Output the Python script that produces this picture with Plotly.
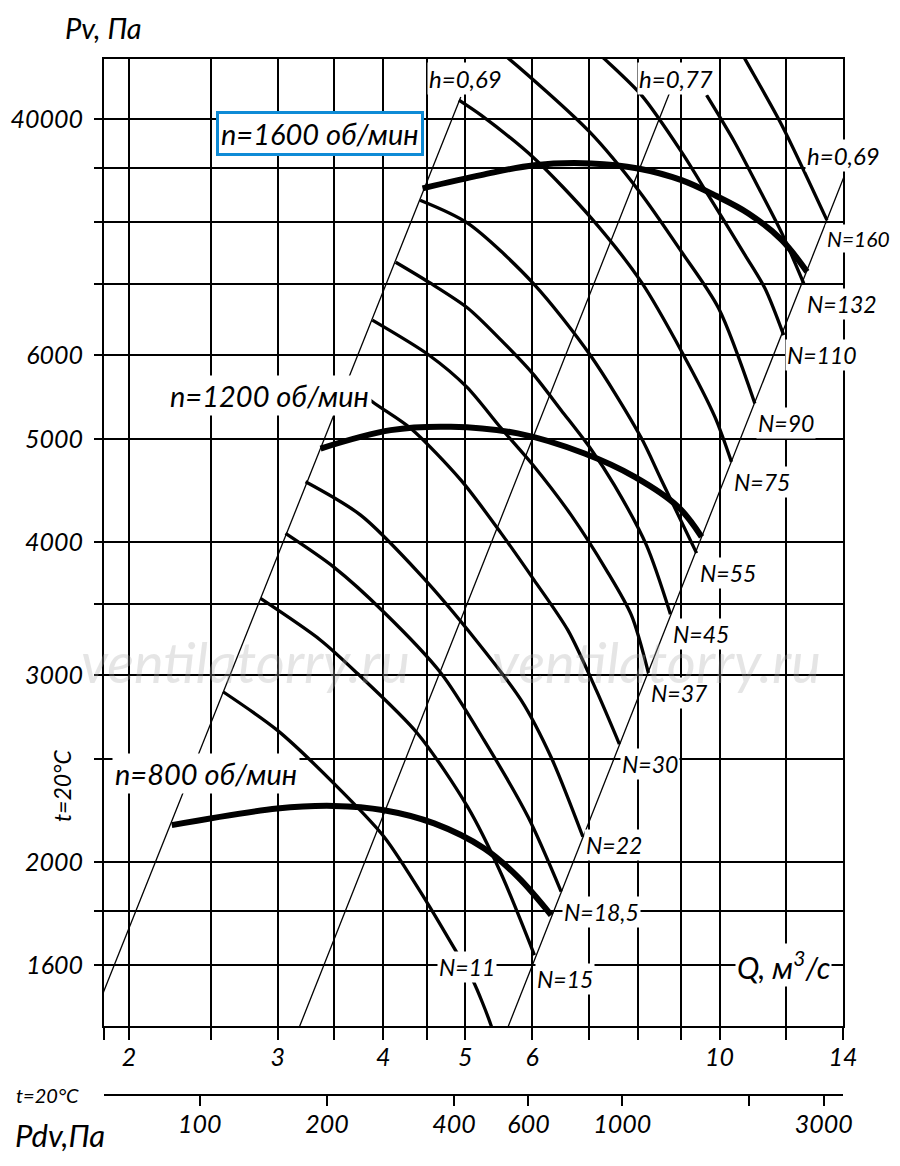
import numpy as np
import plotly.graph_objects as go

FONT = "Lato, 'Noto Sans', 'DejaVu Sans', sans-serif"

# ось Q, м3/с (логарифмическая)
q_grid = [1.868, 2, 2.5, 3, 3.5, 4, 4.5, 5, 6, 7, 8, 9, 10, 12, 14]
q_text = ["", "2", "", "3", "", "4", "", "5", "6", "", "", "", "10", "", "14"]

# ось Pv, Па (на исходнике у 10000 подписано "40000")
p_grid = [1600, 1800, 2000, 2500, 3000, 3500, 4000, 5000, 6000, 7000, 8000, 9000, 10000]
p_text = ["1600", "", "2000", "", "3000", "", "4000", "5000", "6000", "", "", "", "40000"]

# ось Pdv, Па
pdv_ticks = [100, 200, 400, 600, 1000, 2000, 3000]
pdv_text = ["100", "200", "400", "600", "1000", "", "3000"]
PDV_K = 17.0   # Pdv = k * Q^2

# характеристики давления
n800_q = [2.247, 2.995, 3.495, 4.007, 4.594, 5.267, 5.770, 6.319]
n800_p = [2167, 2246, 2259, 2238, 2175, 2060, 1937, 1783]
n1200_q = [3.371, 4.081, 4.809, 5.770, 6.921, 7.935, 8.934, 9.522]
n1200_p = [4901, 5100, 5137, 5064, 4848, 4609, 4319, 4047]
n1600_q = [4.451, 5.220, 6.033, 7.050, 8.009, 9.015, 9.866, 10.82, 11.85, 12.69]
n1600_p = [8614, 8863, 9057, 9091, 8993, 8768, 8488, 8158, 7700, 7188]

# линии мощности N, кВт
n11_q = [2.584, 2.995, 3.495, 4.007, 4.512, 4.919, 5.103, 5.364, 5.438]
n11_p = [2893, 2662, 2372, 2113, 1829, 1629, 1549, 1404, 1345]
n15_q = [2.862, 3.371, 3.725, 4.390, 5.033, 5.513, 6.038]
n15_p = [3541, 3235, 3011, 2643, 2254, 1951, 1635]
n18_q = [3.064, 3.495, 4.004, 4.679, 5.263, 5.935, 6.494]
n18_p = [4077, 3790, 3439, 3013, 2605, 2205, 1876]
n22_q = [3.236, 3.760, 4.430, 5.149, 5.823, 6.319, 6.890]
n22_p = [4560, 4242, 3725, 3235, 2841, 2510, 2113]
n30_q = [3.619, 3.882, 4.311, 4.942, 5.513, 6.033, 6.614, 7.146, 7.611]
n30_p = [5684, 5424, 5118, 4576, 4080, 3685, 3306, 2903, 2583]
n37_q = [3.882, 4.532, 5.023, 5.513, 6.017, 6.674, 7.346, 7.864, 8.238]
n37_p = [6473, 5999, 5598, 5122, 4727, 4242, 3766, 3415, 3013]
n45_q = [4.137, 4.528, 5.037, 5.513, 6.017, 6.494, 7.032, 7.507, 8.193, 8.748]
n45_p = [7339, 7028, 6643, 6199, 5759, 5326, 4904, 4527, 3975, 3423]
n55_q = [4.421, 5.033, 6.022, 7.032, 8.066, 8.536, 9.393]
n55_p = [8395, 7988, 7008, 5999, 5027, 4576, 3907]
n75_q = [4.915, 5.220, 6.033, 7.050, 8.082, 9.040, 9.874, 10.33]
n75_p = [10427, 10093, 9195, 8075, 7028, 6026, 5249, 4761]
n90_q = [5.364, 5.639, 7.018, 8.044, 9.015, 9.974, 11.01]
n90_p = [11749, 11397, 9733, 8546, 7507, 6643, 5404]
n110_q = [6.973, 7.312, 8.082, 9.015, 9.697, 10.72, 11.32, 11.91]
n110_p = [11800, 11397, 10541, 9321, 8488, 7454, 6933, 6267]
n132_q = [9.653, 10.42, 11.13, 11.85, 12.58]
n132_p = [10541, 9519, 8614, 7816, 7008]
n160_q = [10.42, 10.72, 11.85, 13.40]
n160_p = [11876, 11397, 9877, 8039]

power_names = ["N=11", "N=15", "N=18,5", "N=22", "N=30", "N=37", "N=45",
               "N=55", "N=75", "N=90", "N=110", "N=132", "N=160"]
power_curves = [(n11_q, n11_p), (n15_q, n15_p), (n18_q, n18_p), (n22_q, n22_p),
                (n30_q, n30_p), (n37_q, n37_p), (n45_q, n45_p), (n55_q, n55_p),
                (n75_q, n75_p), (n90_q, n90_p), (n110_q, n110_p),
                (n132_q, n132_p), (n160_q, n160_p)]

# линии КПД (h)
h1_q = [1.86, 4.94]
h1_p = [1500, 10500]
h2_q = [3.16, 8.73]
h2_p = [1380, 10600]
h3_q = [5.60, 14.05]
h3_p = [1390, 8850]

x0, x1 = 0.2714, np.log10(14)
y0, y1 = np.log10(1402), np.log10(11400)

fig = go.Figure()

for hq, hp in [(h1_q, h1_p), (h2_q, h2_p), (h3_q, h3_p)]:
    fig.add_trace(go.Scatter(x=hq, y=hp, mode="lines",
                             line=dict(color="black", width=1.3),
                             showlegend=False, hoverinfo="skip"))

for cq, cp in power_curves:
    fig.add_trace(go.Scatter(x=cq, y=cp, mode="lines",
                             line=dict(color="black", width=3.3, shape="spline",
                                       smoothing=0.8),
                             showlegend=False, hoverinfo="skip"))

for cq, cp in [(n800_q, n800_p), (n1200_q, n1200_p), (n1600_q, n1600_p)]:
    fig.add_trace(go.Scatter(x=cq, y=cp, mode="lines",
                             line=dict(color="black", width=6, shape="spline"),
                             showlegend=False, hoverinfo="skip"))

# пустая серия, чтобы показать шкалу Pdv
fig.add_trace(go.Scatter(x=pdv_ticks, y=[2000] * len(pdv_ticks), xaxis="x2",
                         mode="markers", marker=dict(opacity=0),
                         showlegend=False, hoverinfo="skip"))

def lbl(size, **kw):
    return dict(family=FONT, size=size, color="black", style="italic", **kw)

def txt(x, y, text, size, ref="data", **kw):
    d = dict(text=text, showarrow=False, font=lbl(size),
             xanchor=kw.pop("xanchor", "center"), yanchor=kw.pop("yanchor", "middle"))
    if ref == "data":
        d.update(x=np.log10(x), y=np.log10(y), xref="x", yref="y")
    else:
        d.update(x=x, y=y, xref="paper", yref="paper")
    d.update(kw)
    return d

ann = []
# подписи N у концов кривых
for name, (cq, cp) in zip(power_names, power_curves):
    if name == "N=11":
        continue
    size, dx, dy = 23, 1, -4
    if name == "N=160":
        size, dx = 21, -2
    elif name == "N=22":
        dy = 8
    elif name == "N=15":
        dy = -8
    ann.append(txt(cq[-1], cp[-1], name, size, xanchor="left", yanchor="top",
                   xshift=dx, yshift=dy, bgcolor="white", borderpad=1))
ann.append(txt(5.02, 1593, "N=11", 23, bgcolor="white", borderpad=1))

# h
ann.append(txt(5.01, 10934, "h=0,69", 24, bgcolor="white", borderpad=1))
ann.append(txt(8.89, 10934, "h=0,77", 24, bgcolor="white", borderpad=1))
ann.append(txt(14.0, 9256, "h=0,69", 24, bgcolor="white", borderpad=1))

# обороты
ann.append(txt(3.37, 9700, "n=1600 об/мин", 29, bgcolor="white",
               bordercolor="#0e8bd6", borderwidth=3, borderpad=2))
ann.append(txt(2.93, 5503, "n=1200 об/мин", 29, bgcolor="white", borderpad=2))
ann.append(txt(2.469, 2425, "n=800 об/мин", 29, bgcolor="white", borderpad=2))

ann.append(txt(11.91, 1600, "Q, м<sup>3</sup>/с", 30, bgcolor="white", borderpad=1))

# водяные знаки
for q in [2.747, 8.42]:
    ann.append(dict(x=np.log10(q), y=np.log10(3086), xref="x", yref="y",
                    text="ventilatorry.ru", showarrow=False,
                    xanchor="center", yanchor="middle",
                    font=dict(family=FONT, size=56, style="italic",
                              color="rgba(170,170,170,0.30)")))

# подписи осей
ann.append(txt(-0.001, 1.0492, "Pv, Па", 29, ref="paper", yanchor="top"))
ann.append(txt(-0.057, 0.299, "t=20°C", 23, ref="paper", textangle=-90))
ann.append(txt(-0.077, 0.0, "t=20°C", 20, ref="paper"))
ann.append(txt(-0.06, -0.039, "Pdv,Па", 31, ref="paper"))

axis_common = dict(showline=True, linewidth=2, linecolor="black",
                   ticks="outside", tickwidth=2, tickcolor="black",
                   zeroline=False, automargin=False)

# страница добавляет отступ 8 px, поэтому фигура чуть меньше окна
fig.update_layout(
    width=884, height=1150, autosize=False,
    margin=dict(l=96, r=49, t=51, b=63),
    paper_bgcolor="white", plot_bgcolor="white",
    showlegend=False,
    annotations=ann,
    xaxis=dict(type="log", range=[x0, x1], tickvals=q_grid, ticktext=q_text,
               showgrid=True, gridcolor="black", gridwidth=2, mirror=True,
               ticklen=12, ticklabelstandoff=-4, tickfont=lbl(25), **axis_common),
    yaxis=dict(type="log", range=[y0, y1], domain=[0.0666, 1],
               tickvals=p_grid, ticktext=p_text,
               showgrid=True, gridcolor="black", gridwidth=2, mirror=True,
               ticklen=8, ticklabelstandoff=6, tickfont=lbl(25), **axis_common),
    xaxis2=dict(type="log", overlaying="x", anchor="free", position=0,
                side="bottom",
                range=[np.log10(PDV_K) + 2 * x0, np.log10(PDV_K) + 2 * x1],
                tickvals=pdv_ticks, ticktext=pdv_text, showgrid=False,
                ticklen=10, ticklabelstandoff=-3, tickfont=lbl(25), **axis_common),
)

fig.write_html("out.html")
